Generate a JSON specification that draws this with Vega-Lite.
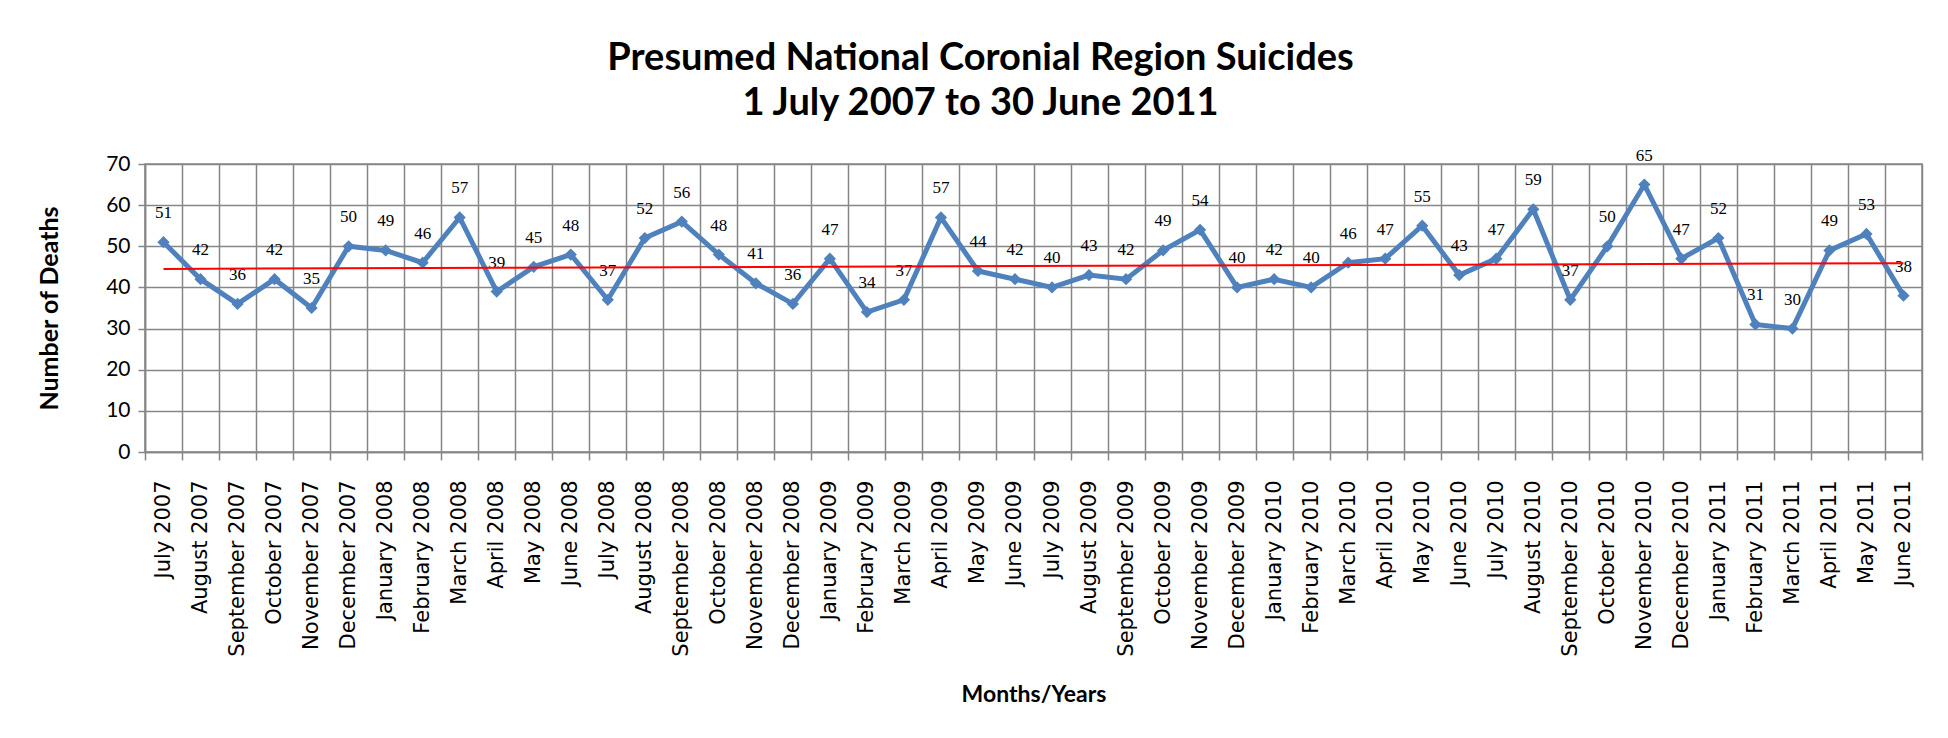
{
  "$schema": "https://vega.github.io/schema/vega-lite/v6.json",
  "width": 1777,
  "height": 288,
  "autosize": {"type": "none"},
  "padding": {"left": 145, "top": 164, "right": 26, "bottom": 286},
  "background": "white",
  "title": {
    "text": ["Presumed National Coronial Region Suicides", "1 July 2007 to 30 June 2011"],
    "font": "Lato",
    "fontSize": 38,
    "fontWeight": "bold",
    "color": "black",
    "anchor": "middle",
    "dx": -53,
    "offset": 24,
    "lineHeight": 45
  },
  "config": {
    "view": {"stroke": "#868686", "strokeWidth": 1.5},
    "axis": {
      "gridColor": "#868686",
      "gridWidth": 1.5,
      "gridOpacity": 1,
      "domainColor": "#868686",
      "domainWidth": 1.5,
      "tickColor": "#868686",
      "tickWidth": 1.5,
      "labelColor": "black",
      "titleColor": "black"
    }
  },
  "data": {
    "values": [
      {"month": "July 2007", "deaths": 51, "trend": 44.5},
      {"month": "August 2007", "deaths": 42},
      {"month": "September 2007", "deaths": 36},
      {"month": "October 2007", "deaths": 42},
      {"month": "November 2007", "deaths": 35},
      {"month": "December 2007", "deaths": 50},
      {"month": "January 2008", "deaths": 49},
      {"month": "February 2008", "deaths": 46},
      {"month": "March 2008", "deaths": 57},
      {"month": "April 2008", "deaths": 39},
      {"month": "May 2008", "deaths": 45},
      {"month": "June 2008", "deaths": 48},
      {"month": "July 2008", "deaths": 37},
      {"month": "August 2008", "deaths": 52},
      {"month": "September 2008", "deaths": 56},
      {"month": "October 2008", "deaths": 48},
      {"month": "November 2008", "deaths": 41},
      {"month": "December 2008", "deaths": 36},
      {"month": "January 2009", "deaths": 47},
      {"month": "February 2009", "deaths": 34},
      {"month": "March 2009", "deaths": 37},
      {"month": "April 2009", "deaths": 57},
      {"month": "May 2009", "deaths": 44},
      {"month": "June 2009", "deaths": 42},
      {"month": "July 2009", "deaths": 40},
      {"month": "August 2009", "deaths": 43},
      {"month": "September 2009", "deaths": 42},
      {"month": "October 2009", "deaths": 49},
      {"month": "November 2009", "deaths": 54},
      {"month": "December 2009", "deaths": 40},
      {"month": "January 2010", "deaths": 42},
      {"month": "February 2010", "deaths": 40},
      {"month": "March 2010", "deaths": 46},
      {"month": "April 2010", "deaths": 47},
      {"month": "May 2010", "deaths": 55},
      {"month": "June 2010", "deaths": 43},
      {"month": "July 2010", "deaths": 47},
      {"month": "August 2010", "deaths": 59},
      {"month": "September 2010", "deaths": 37},
      {"month": "October 2010", "deaths": 50},
      {"month": "November 2010", "deaths": 65},
      {"month": "December 2010", "deaths": 47},
      {"month": "January 2011", "deaths": 52},
      {"month": "February 2011", "deaths": 31},
      {"month": "March 2011", "deaths": 30},
      {"month": "April 2011", "deaths": 49},
      {"month": "May 2011", "deaths": 53},
      {"month": "June 2011", "deaths": 38, "trend": 45.9}
    ]
  },
  "encoding": {
    "x": {
      "field": "month",
      "type": "ordinal",
      "sort": null,
      "scale": {"type": "band", "paddingInner": 0, "paddingOuter": 0},
      "axis": {
        "title": "Months/Years",
        "titleFont": "Lato",
        "titleFontSize": 23,
        "titleFontWeight": "bold",
        "titlePadding": 31,
        "labelFont": "DejaVu Sans",
        "labelFontSize": 21,
        "labelLimit": 0,
        "labelAngle": -90,
        "labelPadding": 20,
        "tickBand": "extent",
        "tickSize": 8,
        "grid": true
      }
    }
  },
  "layer": [
    {
      "mark": {"type": "line", "color": "#4F81BD", "strokeWidth": 5,
               "point": {"shape": "diamond", "size": 150, "filled": true, "color": "#4F81BD"}},
      "encoding": {
        "y": {
          "field": "deaths",
          "type": "quantitative",
          "scale": {"domain": [0, 70], "nice": false},
          "axis": {
            "title": "Number of Deaths",
            "titleFont": "Lato",
            "titleFontSize": 25,
            "titleFontWeight": "bold",
            "titlePadding": 43,
            "labelFont": "Lato",
            "labelFontSize": 21,
            "labelPadding": 8,
            "values": [0, 10, 20, 30, 40, 50, 60, 70],
            "tickSize": 7,
            "grid": true
          }
        }
      }
    },
    {
      "mark": {"type": "text", "font": "Liberation Serif", "fontSize": 17, "color": "black", "dy": -29, "baseline": "middle"},
      "encoding": {
        "y": {"field": "deaths", "type": "quantitative"},
        "text": {"field": "deaths", "type": "quantitative"}
      }
    },
    {
      "mark": {"type": "line", "color": "#FF0000", "strokeWidth": 2, "invalid": "filter"},
      "encoding": {
        "y": {"field": "trend", "type": "quantitative"}
      }
    }
  ]
}
